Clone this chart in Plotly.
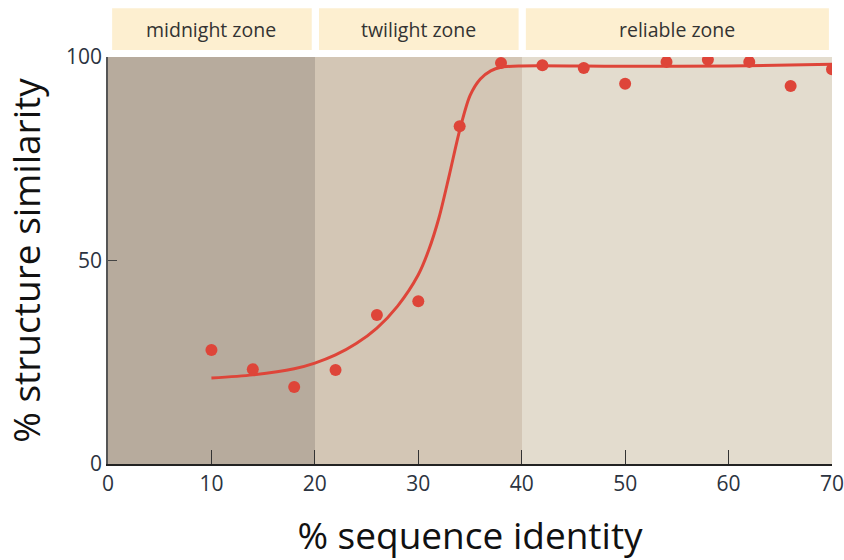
import plotly.graph_objects as go

# observed data points
seq_identity = [10, 14, 18, 22, 26, 30, 34, 38, 42, 46, 50, 54, 58, 62, 66, 70]
struct_sim = [28, 23.3, 18.9, 23.1, 36.6, 40, 83, 98.5, 98, 97.3, 93.4, 98.8, 99.3, 98.8, 92.9, 97]

# fitted curve
curve_x = [10, 14, 18, 20, 22, 24, 26, 28, 30, 31, 32, 33, 34, 35, 36, 37, 38, 40, 50, 60, 70]
curve_y = [21.1, 21.9, 23.4, 24.8, 26.8, 29.6, 33.4, 38.8, 46.5, 52.5, 60.5, 71, 82, 90.5, 94.6, 96.6, 97.5, 97.8, 97.7, 97.8, 98.2]

zones = ["midnight zone", "twilight zone", "reliable zone"]
zone_start = [0, 20, 40]
zone_end = [20, 40, 70]
zone_top = [100, 100, 100]
zone_colors = ["#B7AB9D", "#D3C6B5", "#E3DCCE"]

x_ticks = [0, 10, 20, 30, 40, 50, 60, 70]
y_ticks = [0, 50, 100]

RED = "#DE4539"
FONT = "Open Sans"
TICKCOL = "#2B3340"

fig = go.Figure()
# zone backgrounds as bars
fig.add_trace(go.Bar(
    x=[(a + b) / 2 for a, b in zip(zone_start, zone_end)],
    y=zone_top,
    width=[b - a for a, b in zip(zone_start, zone_end)],
    marker=dict(color=zone_colors, line=dict(width=0)),
    hoverinfo="skip"))
fig.add_trace(go.Scatter(x=curve_x, y=curve_y, mode="lines",
                         line=dict(color=RED, width=3, shape="spline", smoothing=0.8),
                         hoverinfo="skip"))
fig.add_trace(go.Scatter(x=seq_identity, y=struct_sim, mode="markers",
                         marker=dict(color=RED, size=12, line=dict(width=0))))

for name, a, b in zip(zones, zone_start, zone_end):
    fig.add_shape(type="rect", xref="x", yref="paper", x0=a + 0.4, x1=b - 0.3,
                  y0=1.017, y1=1.12, fillcolor="#FDEFD0", line=dict(width=0))
    fig.add_annotation(x=(a + b) / 2, xref="x", y=1.068, yref="paper",
                       text=name, showarrow=False,
                       font=dict(family=FONT, size=19.5, color="#333333"),
                       yanchor="middle")

fig.update_layout(
    width=844, height=560,
    margin=dict(l=108, r=12, t=57, b=96),
    paper_bgcolor="white", plot_bgcolor="white",
    showlegend=False, bargap=0,
    font=dict(family=FONT, color="#333333"),
)
fig.update_xaxes(range=[0, 70], tickvals=x_ticks, ticktext=[str(v) for v in x_ticks],
                 showgrid=False, zeroline=False, showline=True, linecolor="#222222", linewidth=1.5,
                 ticks="inside", ticklen=14, tickcolor="#333333", tickwidth=1.2,
                 tickfont=dict(size=21, color=TICKCOL), automargin=False,
                 ticklabeloverflow="allow", layer="above traces",
                 title=dict(text="% sequence identity", font=dict(size=37, color="#111111"), standoff=30))
fig.update_yaxes(range=[0, 100], tickvals=y_ticks, ticktext=[str(v) for v in y_ticks],
                 showgrid=False, zeroline=False, showline=True, linecolor="#555555", linewidth=1.5,
                 ticks="inside", ticklen=9, tickcolor="#444444", tickwidth=1.2,
                 tickfont=dict(size=21, color=TICKCOL), automargin=False,
                 layer="above traces",
                 title=dict(text="% structure similarity", font=dict(size=37, color="#111111"), standoff=18))

fig.write_html("out.html")
